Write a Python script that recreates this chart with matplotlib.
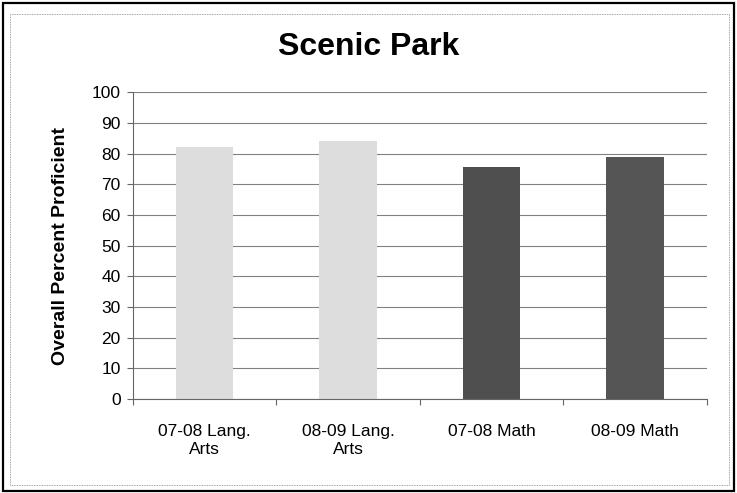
import matplotlib.pyplot as plt
from matplotlib.patches import Rectangle

categories = ['07-08 Lang.\nArts', '08-09 Lang.\nArts', '07-08 Math', '08-09 Math']
values = [82.0, 84.0, 75.7, 78.8]
bar_colors = ['#dddddd', '#dddddd', '#4f4f4f', '#555555']
y_ticks = list(range(0, 101, 10))

plt.rcParams['font.family'] = ['Liberation Sans', 'DejaVu Sans']

fig = plt.figure(figsize=(7.37, 4.93), dpi=100)
fig.set_facecolor('white')

# outer frame and inner chart area border
fig.add_artist(Rectangle((0.004, 0.004), 0.992, 0.990, transform=fig.transFigure,
                         fill=False, ec='black', lw=1.6))
fig.add_artist(Rectangle((0.014, 0.016), 0.975, 0.955, transform=fig.transFigure,
                         fill=False, ec='#888888', lw=0.6, ls=(0, (1, 1))))

ax = fig.add_axes([0.1805, 0.191, 0.7785, 0.622])
x = range(len(categories))
ax.bar(x, values, width=0.40, color=bar_colors, zorder=2)

ax.set_xlim(-0.5, len(categories) - 0.5)
ax.set_ylim(0, 100)
ax.set_yticks(y_ticks)
ax.set_xticks([i + 0.5 for i in range(-1, len(categories))], minor=False)
ax.set_xticklabels([])
ax.set_xticks(list(x), minor=True)
ax.set_xticklabels(categories, minor=True, fontsize=12.5, linespacing=1.25)
ax.tick_params(axis='x', which='minor', length=0, pad=18)
ax.tick_params(axis='x', which='major', length=4, direction='out', color='#666666')
ax.tick_params(axis='y', labelsize=12.5, length=4, color='#666666', pad=5)

ax.grid(axis='y', color='#808080', lw=0.8, zorder=1)
for s in ['top', 'right']:
    ax.spines[s].set_visible(False)
ax.spines['left'].set_color('#666666')
ax.spines['bottom'].set_color('#666666')

ax.set_ylabel('Overall Percent Proficient', fontsize=14, fontweight='bold', labelpad=16)
fig.text(0.5, 0.905, 'Scenic Park', ha='center', va='center', fontsize=23, fontweight='bold')

fig.savefig('out.png', dpi=100)
